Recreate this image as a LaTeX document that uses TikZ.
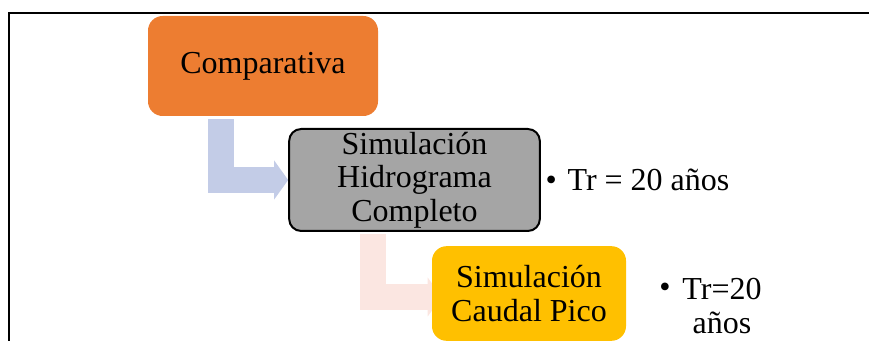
\documentclass[tikz,border=0pt]{standalone}
\usepackage{fontspec}
\setmainfont{Liberation Serif}
\usetikzlibrary{arrows.meta,backgrounds,calc}
\definecolor{compOrange}{HTML}{ED7D31}
\definecolor{simGray}{HTML}{A5A5A5}
\definecolor{picoYellow}{HTML}{FFC000}
\definecolor{bendBlue}{HTML}{C3CCE7}
\definecolor{bendPink}{HTML}{FBE6E1}

\begin{document}
\begin{tikzpicture}[x=0.75pt, y=-0.75pt, every node/.style={font=\fontsize{24}{25}\selectfont},
    box/.style={rounded corners=11pt, align=center, inner sep=0pt},
    bendarrow/.style={line width=19.5pt, -{Triangle[width=29.25pt,length=10.5pt,line width=0pt]}}]
                \useasboundingbox (0,0) rectangle (870,341);
                \draw[line width=1.5pt] (9,341) -- (9,13) -- (869,13);

                \node[box, fill=compOrange, minimum width=172.5pt, minimum height=75pt] (comp) at (263,66) {Comparativa};
                \node[box, fill=simGray, draw=black, line width=1.5pt, rounded corners=9pt,
                      minimum width=188pt, minimum height=76.5pt] (hidro) at (414.5,180) {Simulación\\Hidrograma\\Completo};
                \node[box, fill=picoYellow, minimum width=145.5pt, minimum height=71pt] (pico) at (529,293.5) {Simulación\\Caudal Pico};

                \node[anchor=west] (trHidro) at (541,180) {\textbullet\hspace{8pt}Tr = 20 años};
                \node[align=center] (trPico) at (722,306) {Tr=20\\años};
                \node (bulPico) at (665,290) {\textbullet};

                \begin{scope}[on background layer]
                \draw[bendarrow, color=bendBlue] ($(comp.south west)+(73,3)$) |- (hidro.west);
                \draw[bendarrow, color=bendPink] ($(hidro.south west)+(85,2)$) |- ($(pico.west)+(10,3.5)$);
                \end{scope}
            \end{tikzpicture}
\end{document}
